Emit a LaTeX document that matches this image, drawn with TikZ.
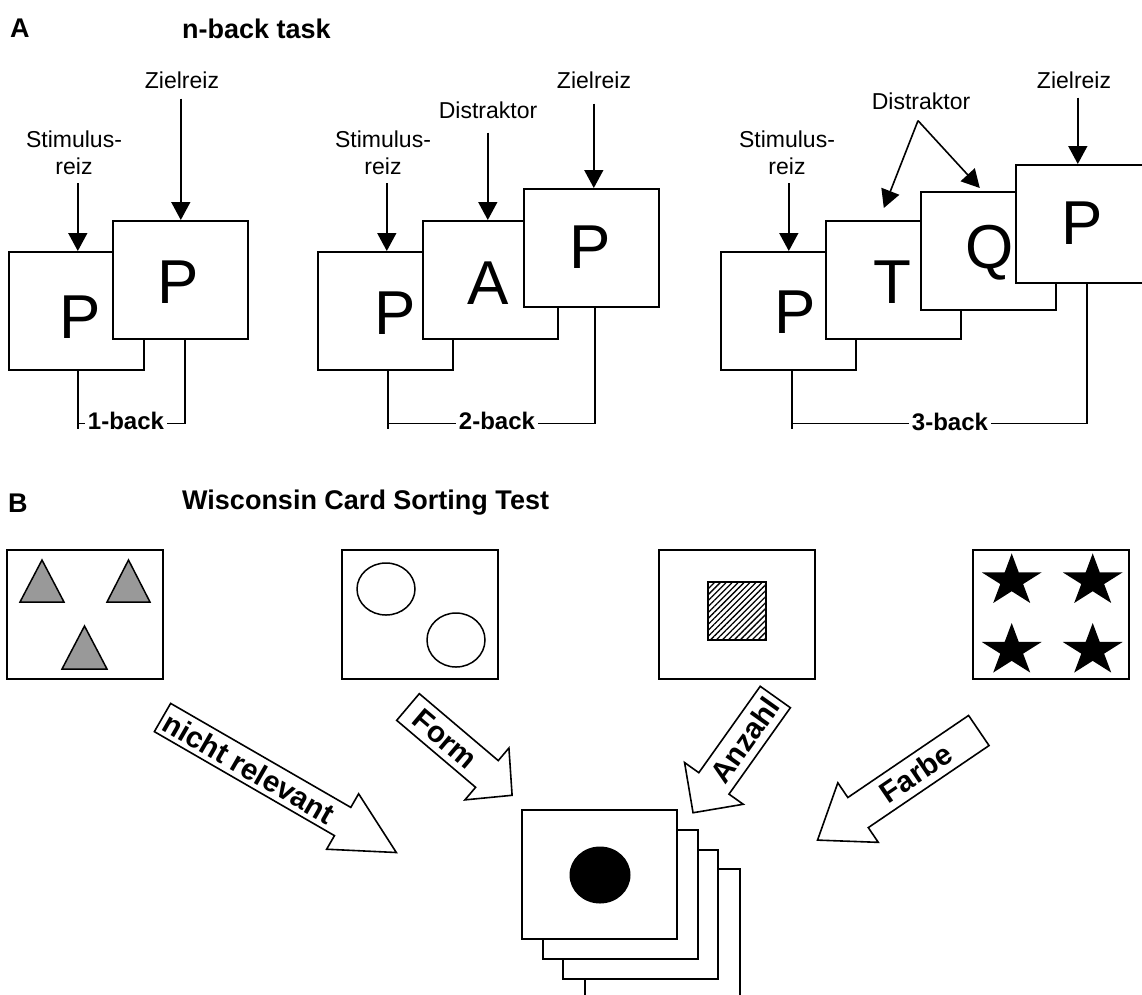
\documentclass[tikz,border=0pt]{standalone}
\usepackage{fontspec}
\setmainfont{Liberation Sans}
\usetikzlibrary{arrows.meta,calc,patterns.meta}

% block arrow: name, tail centre, direction, shaft length, half shaft width, half head width, head length
\newcommand\blockarrow[7]{%
  \begin{scope}[shift={#2}, rotate=#3]
    \draw[blockarr] (0,-#5) -- (#4,-#5) -- (#4,-#6) -- ({#4+#7},0)
      -- (#4,#6) -- (#4,#5) -- (0,#5) -- cycle;
    \coordinate (#1) at ({#4+#7},0);
  \end{scope}}

% five-pointed star centred at (#1,#2)
\newcommand\wcstar[2]{%
  \fill[shift={(#1,#2)}, yscale=0.87]
    (-90:31.5) -- (-54:12) -- (-18:31.5) -- (18:12) -- (54:31.5) -- (90:12)
    -- (126:31.5) -- (162:12) -- (198:31.5) -- (234:12) -- cycle;}

\begin{document}
\begin{tikzpicture}[x=1pt, y=-1pt,
  card/.style={draw, fill=white, line width=1.6pt, anchor=north west, inner sep=0pt,
               minimum width=135pt, minimum height=118pt},
  wcard/.style={card, minimum width=156pt, minimum height=129pt},
  stackcard/.style={card, minimum width=155pt, minimum height=129pt},
  glyph/.style={font=\fontsize{62}{62}\selectfont, inner sep=0pt},
  lbl/.style={font=\fontsize{23}{27}\selectfont, align=center, inner sep=0pt},
  heading/.style={font=\bfseries\fontsize{27}{29}\selectfont, inner sep=0pt, anchor=west},
  backlbl/.style={font=\bfseries\fontsize{24}{26}\selectfont, fill=white, inner xsep=3pt, inner ysep=1pt},
  pointer/.style={line width=1.6pt, -{Triangle[width=19pt,length=18pt]}},
  bracket/.style={line width=1.6pt},
  figline/.style={line width=1.5pt},
  blockarr/.style={draw, fill=white, line width=1.6pt, line join=miter},
  arrowtext/.style={font=\bfseries\fontsize{29.5}{30}\selectfont, inner sep=0pt}
]
\useasboundingbox (0,0) rectangle (1142,994);

% ---------------- panel A: n-back task ----------------
\node[heading] (hA) at (10,28.5) {A};
\node[heading] (hAt) at (182,28.5) {n-back task};

% 1-back
\node[card] (c11) at (8,251) {};
\node[card] (c12) at (112,220) {};
\node[glyph] (g11) at (80,317) {P};
\node[glyph] (g12) at (178,282) {P};
\node[lbl] (s1) at (74,153) {Stimulus-\\reiz};
\node[lbl] (z1) at (182,80) {Zielreiz};
\draw[pointer] ($(c11.north |- s1.south)+(1.5,8)$) -- ($(c11.north)+(1.5,0)$);
\draw[pointer] ($(c12.north |- z1.south)+(0.5,10)$) -- ($(c12.north)+(0.5,0)$);
\draw[bracket] ($(c11.south)+(1.5,0)$) -- ++(0,58);
\draw[bracket] ($(c11.south)+(1.5,53)$) -| ($(c12.south)+(4.5,0)$);
\node[backlbl] (b1) at (126,421) {1-back};

% 2-back
\node[card] (c21) at (317,251) {};
\node[card] (c22) at (422,220) {};
\node[card] (c23) at (523,188) {};
\node[glyph] (g21) at (395,313) {P};
\node[glyph] (g22) at (488,283) {A};
\node[glyph] (g23) at (590,247) {P};
\node[lbl] (s2) at (383,153) {Stimulus-\\reiz};
\node[lbl] (d2) at (488,110) {Distraktor};
\node[lbl] (z2) at (594,80) {Zielreiz};
\draw[pointer] ($(c21.north |- s2.south)+(1.5,8)$) -- ($(c21.north)+(1.5,0)$);
\draw[pointer] ($(c22.north |- d2.south)+(-2.5,14)$) -- ($(c22.north)+(-2.5,0)$);
\draw[pointer] ($(c23.north |- z2.south)+(2.5,15)$) -- ($(c23.north)+(2.5,0)$);
\draw[bracket] ($(c21.south)+(2.5,0)$) -- ++(0,58);
\draw[bracket] ($(c21.south)+(2.5,53)$) -| ($(c23.south)+(3.5,0)$);
\node[backlbl] (b2) at (497,421) {2-back};

% 3-back
\node[card] (c31) at (720,251) {};
\node[card] (c32) at (825,220) {};
\node[card] (c33) at (920,191) {};
\node[card] (c34) at (1015,164) {};
\node[glyph] (g31) at (795,312) {P};
\node[glyph] (g32) at (892,282) {T};
\node[glyph] (g33) at (990,253) {Q};
\node[glyph] (g34) at (1082,223) {P};
\node[lbl] (s3) at (787,153) {Stimulus-\\reiz};
\node[lbl] (d3) at (921,101) {Distraktor};
\node[lbl] (z3) at (1074,80) {Zielreiz};
\draw[pointer] ($(c31.north |- s3.south)+(0.5,8)$) -- ($(c31.north)+(0.5,0)$);
\coordinate (d3a) at ($(d3.south)+(-3,11)$);
\draw[pointer] (d3a) -- ($(c32.north)+(-9.5,-12)$);
\draw[pointer] (d3a) -- ($(c33.north)+(-8.5,-3)$);
\draw[pointer] ($(c34.north |- z3.south)+(-5.5,9)$) -- ($(c34.north)+(-5.5,0)$);
\draw[bracket] ($(c31.south)+(3.5,0)$) -- ++(0,58);
\draw[bracket] ($(c31.south)+(3.5,53)$) -| ($(c34.south)+(3.5,0)$);
\node[backlbl] (b3) at (950,422) {3-back};

% ---------------- panel B: Wisconsin Card Sorting Test ----------------
\node[heading] (hB) at (8,503) {B};
\node[heading] (hBt) at (182,503) {Wisconsin Card Sorting Test};

% stimulus cards
\node[wcard] (k1) at (6,549) {};
\node[wcard] (k2) at (341,549) {};
\node[wcard] (k3) at (658,549) {};
\node[wcard] (k4) at (972,549) {};

% three grey triangles
\filldraw[figline, fill=black!40] (20,602) -- (64,602) -- (42,560) -- cycle;
\filldraw[figline, fill=black!40] (107,602) -- (150,602) -- (128.5,560) -- cycle;
\filldraw[figline, fill=black!40] (62,669) -- (107,669) -- (84.5,626) -- cycle;

% two open circles
\draw[figline] (386,589) ellipse [x radius=29pt, y radius=26pt];
\draw[figline] (456,640) ellipse [x radius=29pt, y radius=27pt];

% one hatched square
\draw[figline, pattern={Lines[angle=45,distance=4.2pt,line width=1.3pt]}] (708,582) rectangle (766,640);

% four black stars
\wcstar{1011.7}{580.8}
\wcstar{1092.7}{580.8}
\wcstar{1011.7}{650.4}
\wcstar{1092.7}{650.4}

% response card stack
\node[stackcard] (p4) at (584,868) {};
\node[stackcard] (p3) at (562,849) {};
\node[stackcard] (p2) at (542,829) {};
\node[stackcard] (p1) at (521,809) {};
\fill (600,875) ellipse [x radius=30.5pt, y radius=28.5pt];

% sorting rules
\blockarrow{anr}{(162.5,717.5)}{-30}{208}{16.3}{32}{62}
\blockarrow{afo}{(408,707)}{-40.3}{103.5}{17.5}{34}{33}
\blockarrow{aan}{(775.3,697)}{-125.4}{106}{18.5}{36}{36}
\blockarrow{afa}{(978.8,730.5)}{-145.8}{146}{18.2}{36}{49}
\node[arrowtext, rotate=-30] (tnr) at (249,768) {nicht relevant};
\node[arrowtext, rotate=-40.3] (tfo) at (445,739) {Form};
\node[arrowtext, rotate=54.6] (tan) at (745,740) {Anzahl};
\node[arrowtext, rotate=34.2] (tfa) at (916,773) {Farbe};
\end{tikzpicture}
\end{document}
